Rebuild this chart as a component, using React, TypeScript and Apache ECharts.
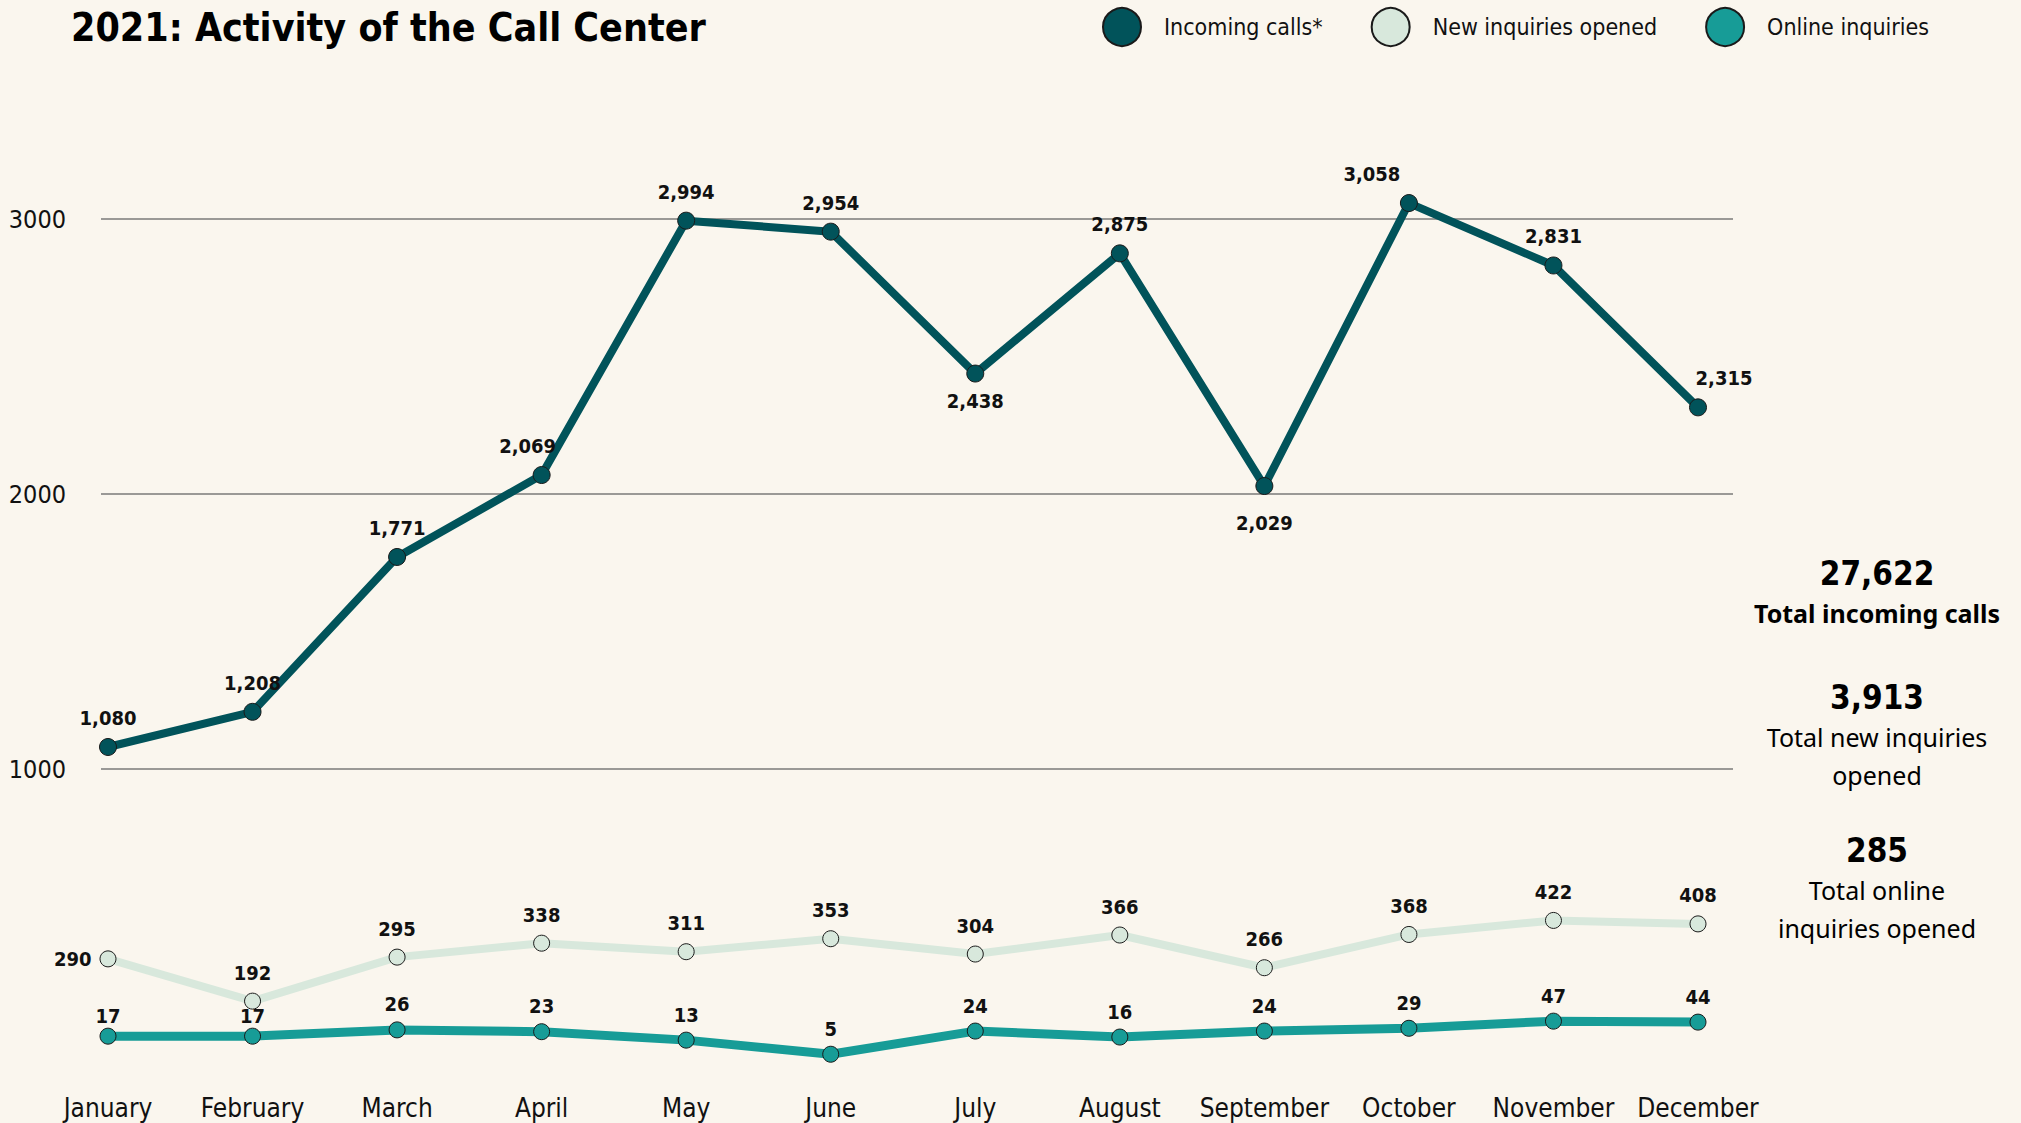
import React, { useEffect, useRef } from "react";
import * as echarts from "echarts";

const months = ["January", "February", "March", "April", "May", "June", "July", "August", "September", "October", "November", "December"];
const incomingCalls = [1080, 1208, 1771, 2069, 2994, 2954, 2438, 2875, 2029, 3058, 2831, 2315];
const newInquiries = [290, 192, 295, 338, 311, 353, 304, 366, 266, 368, 422, 408];
const onlineInquiries = [17, 17, 26, 23, 13, 5, 24, 16, 24, 29, 47, 44];
const gridTicks = [1000, 2000, 3000];
const seriesNames = ["Incoming calls*", "New inquiries opened", "Online inquiries"];
const totalCaptions = [["Total incoming calls"], ["Total new inquiries", "opened"], ["Total online", "inquiries opened"]];

const BG = "#faf6ee";
const C_IN = "#01535a";
const C_NEW = "#d8e8dc";
const C_ON = "#179c97";
const NARROW = "'DejaVu Sans Condensed', 'Liberation Sans Narrow', 'Roboto', sans-serif";
const SANS = "'Noto Sans', 'Open Sans', sans-serif";

const fmt = (v: number) => v.toLocaleString("en-US");
const sum = (a: number[]) => a.reduce((s, v) => s + v, 0);

export default function App() {
  const ref = useRef<HTMLDivElement>(null);
  useEffect(() => {
    if (!ref.current) return;
    const chart = echarts.init(ref.current, null, { renderer: "svg" });

    const labelBase = {
      show: true,
      fontFamily: NARROW,
      fontWeight: "bold" as const,
      fontSize: 20,
      color: "#111",
      formatter: (p: any) => fmt(p.value),
    };

    const inTweaks: Record<number, any> = {
      3: { offset: [-14, 0] },
      6: { position: "bottom", distance: 8 },
      8: { position: "bottom", distance: 18 },
      9: { offset: [-37, 0] },
      11: { offset: [26, 0] },
    };
    const inData = incomingCalls.map((v, i) => (inTweaks[i] ? { value: v, label: inTweaks[i] } : v));
    const newData = newInquiries.map((v, i) => (i === 0 ? { value: v, label: { position: "left", distance: 8 } } : v));
    const onData = onlineInquiries.map((v, i) => (i < 2 ? { value: v, label: { distance: 2 } } : v));

    const totals = [sum(incomingCalls), sum(newInquiries), sum(onlineInquiries)];
    const totalY = [573, 697, 850];
    const graphics: any[] = [
      {
        type: "text",
        x: 71,
        y: 8,
        style: { text: "2021: Activity of the Call Center", font: `bold 39px ${NARROW}`, fill: "#000", textVerticalAlign: "top" },
      },
    ];
    totals.forEach((t, k) => {
      graphics.push({
        type: "text",
        x: 1877,
        y: totalY[k],
        style: { text: fmt(t), font: `bold 33px ${NARROW}`, fill: "#000", textAlign: "center", textVerticalAlign: "middle" },
      });
      totalCaptions[k].forEach((line, j) => {
        graphics.push({
          type: "text",
          x: 1877,
          y: totalY[k] + 40 + j * 38,
          style: {
            text: line,
            font: `${k === 0 ? "bold " : ""}25px ${SANS}`,
            fill: "#000",
            textAlign: "center",
            textVerticalAlign: "middle",
          },
        });
      });
    });

    const catAxis = (gridIndex: number, show: boolean) => ({
      type: "category",
      gridIndex,
      data: months,
      boundaryGap: false,
      show,
      axisLine: { show: false },
      axisTick: { show: false },
      axisLabel: { show, interval: 0, fontFamily: NARROW, fontSize: 26, color: "#111", margin: 17 },
    });

    const option: any = {
      animation: false,
      backgroundColor: BG,
      legend: {
        data: seriesNames,
        left: 1102,
        top: 7,
        padding: 0,
        icon: "circle",
        itemWidth: 38,
        itemHeight: 38,
        itemGap: 48,
        textStyle: { fontFamily: NARROW, fontSize: 23, color: "#111", padding: [0, 0, 0, 18] },
      },
      graphic: graphics,
      grid: [
        { left: 101, width: 1632, top: 219, height: 550 },
        { left: 108, width: 1590, top: 219, height: 550 },
        { left: 108, width: 1590, top: 832, height: 236 },
        { left: 108, width: 1590, top: 1010, height: 68 },
      ],
      xAxis: [
        { type: "value", gridIndex: 0, min: 0, max: 1, show: false },
        catAxis(1, false),
        catAxis(2, false),
        catAxis(3, true),
      ],
      yAxis: [
        {
          type: "value",
          gridIndex: 0,
          min: gridTicks[0],
          max: gridTicks[gridTicks.length - 1],
          interval: 1000,
          axisLine: { show: false },
          axisTick: { show: false },
          axisLabel: { fontFamily: NARROW, fontSize: 25, color: "#111", margin: 35, formatter: (v: number) => String(v) },
          splitLine: { lineStyle: { color: "#7a7a78", width: 1.5 } },
        },
        { type: "value", gridIndex: 1, min: 1000, max: 3000, show: false, splitLine: { show: false } },
        { type: "log", gridIndex: 2, min: 100, max: 1000, show: false, splitLine: { show: false } },
        { type: "log", gridIndex: 3, min: 1, max: 100, show: false, splitLine: { show: false } },
      ],
      series: [
        { type: "line", xAxisIndex: 0, yAxisIndex: 0, data: [], silent: true },
        {
          name: seriesNames[0],
          type: "line",
          xAxisIndex: 1,
          yAxisIndex: 1,
          data: inData,
          clip: false,
          symbol: "circle",
          symbolSize: 17,
          lineStyle: { color: C_IN, width: 8 },
          itemStyle: { color: C_IN, borderColor: "#1a1a1a", borderWidth: 1 },
          label: { ...labelBase, position: "top", distance: 10 },
          z: 5,
        },
        {
          name: seriesNames[1],
          type: "line",
          xAxisIndex: 2,
          yAxisIndex: 2,
          data: newData,
          clip: false,
          symbol: "circle",
          symbolSize: 16,
          lineStyle: { color: C_NEW, width: 8 },
          itemStyle: { color: C_NEW, borderColor: "#1a1a1a", borderWidth: 1 },
          label: { ...labelBase, position: "top", distance: 10 },
          z: 4,
        },
        {
          name: seriesNames[2],
          type: "line",
          xAxisIndex: 3,
          yAxisIndex: 3,
          data: onData,
          clip: false,
          symbol: "circle",
          symbolSize: 16,
          lineStyle: { color: C_ON, width: 9 },
          itemStyle: { color: C_ON, borderColor: "#1a1a1a", borderWidth: 1 },
          label: { ...labelBase, position: "top", distance: 7 },
          z: 4,
        },
      ],
    };
    chart.setOption(option);
    return () => chart.dispose();
  }, []);

  return <div ref={ref} style={{ width: 2021, height: 1123, position: "fixed", left: 0, top: 0, background: BG }} />;
}
